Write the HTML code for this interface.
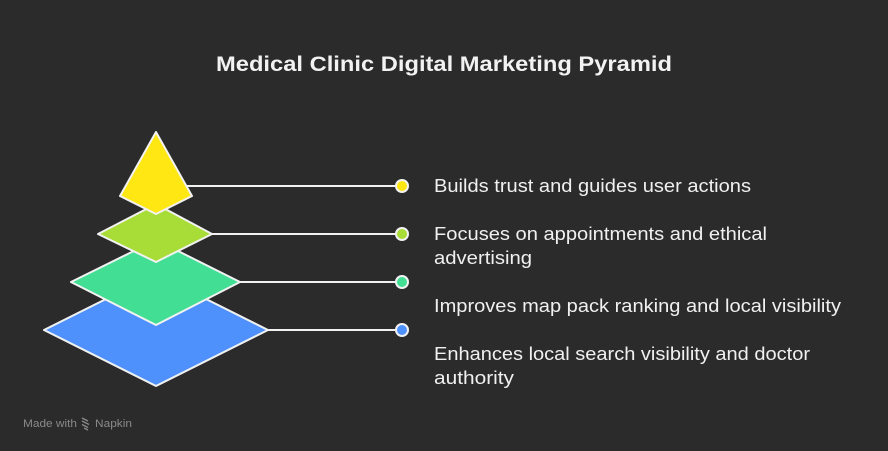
<!DOCTYPE html>
<html><head><meta charset="utf-8"><style>
html,body{margin:0;padding:0;background:#2b2b2b;}
svg{display:block}
text{font-family:"Liberation Sans",sans-serif;}
</style></head><body>
<svg width="888" height="451" viewBox="0 0 888 451" xmlns="http://www.w3.org/2000/svg">
<rect width="888" height="451" fill="#2b2b2b"/>
<text x="216" y="71" font-size="21" font-weight="bold" fill="#f2f2f2" textLength="456" lengthAdjust="spacingAndGlyphs">Medical Clinic Digital Marketing Pyramid</text>
<g stroke="#f2f2f2" stroke-width="2">
<line x1="186" y1="186" x2="396" y2="186"/>
<line x1="212" y1="234" x2="396" y2="234"/>
<line x1="240" y1="282" x2="396" y2="282"/>
<line x1="268" y1="330" x2="396" y2="330"/>
<polygon points="44,330 156,274 268,330 156,386" fill="#4e91fc" stroke-linejoin="round"/>
<polygon points="71,282 156,240 240,282 156,325" fill="#42de94" stroke-linejoin="round"/>
<polygon points="98,234 156,204 212,234 156,262" fill="#a8dc37" stroke-linejoin="round"/>
<polygon points="156,132 192,196 156,214 120,196" fill="#ffe713" stroke-linejoin="round"/>
<circle cx="402" cy="186" r="6" fill="#ffe713"/>
<circle cx="402" cy="234" r="6" fill="#a8dc37"/>
<circle cx="402" cy="282" r="6" fill="#42de94"/>
<circle cx="402" cy="330" r="6" fill="#4e91fc"/>
</g>
<g font-size="18" fill="#f0f0f0">
<text x="434" y="192" textLength="317" lengthAdjust="spacingAndGlyphs">Builds trust and guides user actions</text>
<text x="434" y="240" textLength="333" lengthAdjust="spacingAndGlyphs">Focuses on appointments and ethical</text>
<text x="434" y="264" textLength="98" lengthAdjust="spacingAndGlyphs">advertising</text>
<text x="434" y="312" textLength="407" lengthAdjust="spacingAndGlyphs">Improves map pack ranking and local visibility</text>
<text x="434" y="360" textLength="376" lengthAdjust="spacingAndGlyphs">Enhances local search visibility and doctor</text>
<text x="434" y="384" textLength="80" lengthAdjust="spacingAndGlyphs">authority</text>
</g>
<text x="23" y="427" font-size="11" fill="#8a8a8a" textLength="54" lengthAdjust="spacingAndGlyphs">Made with</text>
<g stroke="#8a8a8a" stroke-width="1.3" fill="none">
<path d="M82 418 l6 3 M82 421 l7 3.5 M82 424.5 l6 3 M84 428 l4 2"/>
</g>
<text x="95" y="427" font-size="11" fill="#8a8a8a" textLength="37" lengthAdjust="spacingAndGlyphs">Napkin</text>
</svg>
</body></html>
